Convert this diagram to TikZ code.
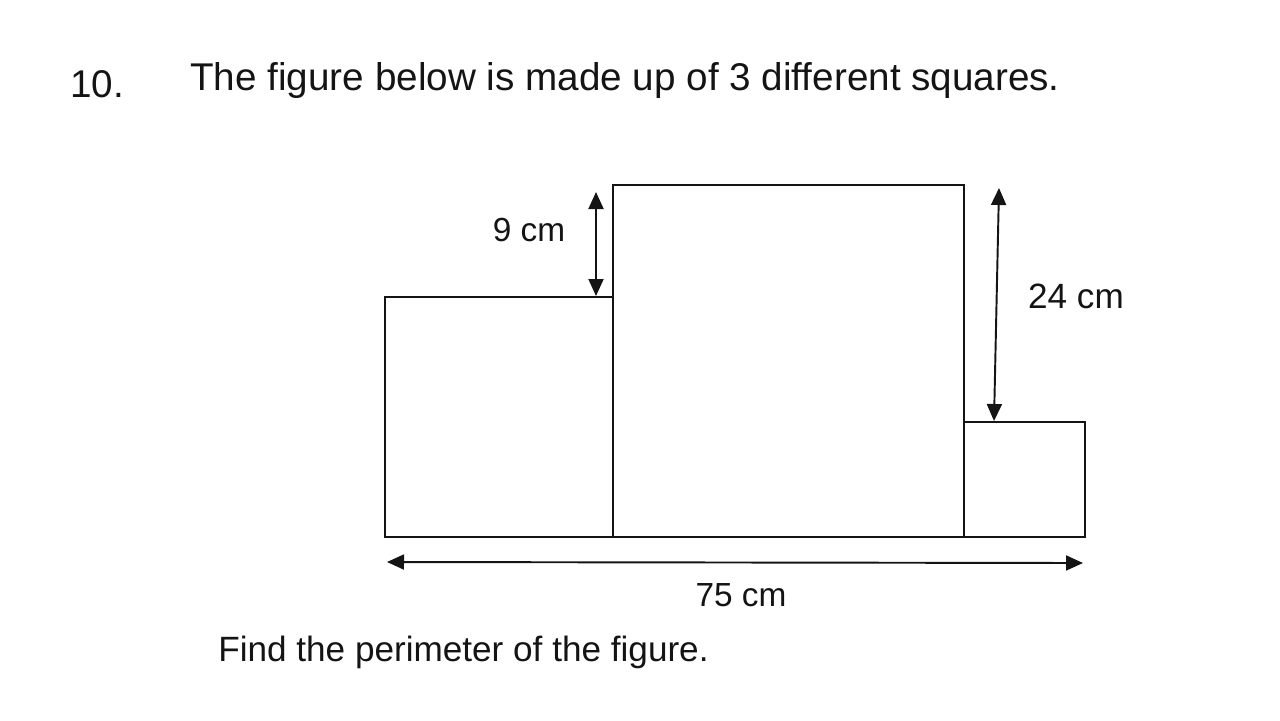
\documentclass[tikz,border=0pt]{standalone}
\usepackage{fontspec}
\setmainfont{Liberation Sans}
\usetikzlibrary{arrows.meta}
\definecolor{inkblack}{RGB}{20, 20, 20}

\begin{document}
\begin{tikzpicture}[x=0.02cm,y=-0.02cm,
    edge/.style={draw=inkblack,line width=1.3pt},
    dimarrow/.style={draw=inkblack,line width=1.1pt,{Triangle[length=0.34cm,width=0.3cm]}-{Triangle[length=0.34cm,width=0.3cm]}},
    label/.style={text=inkblack,font=\fontsize{19}{22}\selectfont,inner sep=0pt}]
        \useasboundingbox (0,0) rectangle (1280,720);

        % Question text
        \node[label,font=\fontsize{22}{26}\selectfont] (qnum) at (97,84) {10.};
        \node[label,font=\fontsize{22}{26}\selectfont,anchor=west] (qtext) at (190,81) {The figure below is made up of 3 different squares.};
        \node[label,font=\fontsize{20}{24}\selectfont,anchor=west] (ask) at (218,652) {Find the perimeter of the figure.};

        % The three squares
        \draw[edge] (385,297) rectangle (613,537);
        \draw[edge] (613,185) rectangle (964,537);
        \draw[edge] (964,422) rectangle (1085,537);

        % Dimension ends
        \coordinate (ninetop) at (596,192);
        \coordinate (ninebot) at (596,296);
        \coordinate (tfourtop) at (999,188);
        \coordinate (tfourbot) at (994,421);
        \coordinate (wideleft) at (387,562);
        \coordinate (wideright) at (1083,563);

        % Dimension arrows and labels
        \draw[dimarrow] (ninetop) -- (ninebot);
        \draw[dimarrow] (tfourtop) -- (tfourbot);
        \draw[dimarrow] (wideleft) -- (wideright);
        \node[label] (nine) at (529,230) {9 cm};
        \node[label,font=\fontsize{20}{24}\selectfont] (tfour) at (1076,296) {24 cm};
        \node[label] (wide) at (741,595) {75 cm};
    \end{tikzpicture}
\end{document}
